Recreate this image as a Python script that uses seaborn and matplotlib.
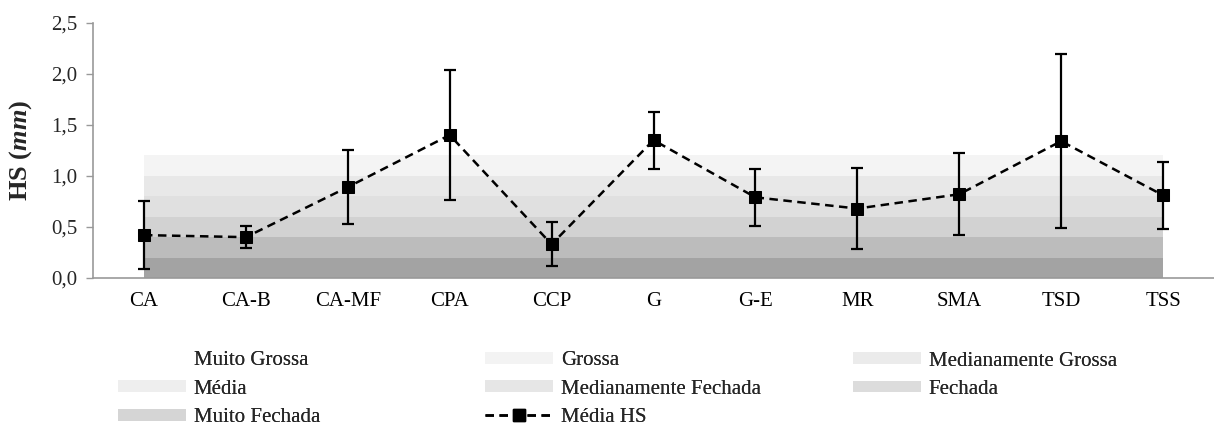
import matplotlib
matplotlib.use("Agg")
import matplotlib.pyplot as plt
import seaborn as sns
import numpy as np
import pandas as pd
from matplotlib.patches import Patch
from matplotlib.lines import Line2D

categories = ["CA", "CA-B", "CA-MF", "CPA", "CCP", "G", "G-E", "MR", "SMA", "TSD", "TSS"]
media_hs = [0.42, 0.40, 0.89, 1.40, 0.33, 1.35, 0.79, 0.68, 0.82, 1.34, 0.81]
desvio = [0.33, 0.11, 0.36, 0.64, 0.215, 0.28, 0.28, 0.40, 0.40, 0.85, 0.33]

# classes (bottom to top), each band 0.2 thick
classes = ["Muito Fechada", "Fechada", "Medianamente Fechada", "Média",
           "Medianamente Grossa", "Grossa"]
class_heights = [0.2, 0.2, 0.2, 0.2, 0.2, 0.2]
band_colors = ["#a3a3a3", "#bcbcbc", "#d2d2d2", "#e0e0e0", "#e8e8e8", "#f4f4f4"]
legend_colors = {"Muito Grossa": "#ffffff", "Grossa": "#f3f3f3",
                 "Medianamente Grossa": "#ebebeb", "Média": "#eeeeee",
                 "Medianamente Fechada": "#e6e6e6", "Fechada": "#dcdcdc",
                 "Muito Fechada": "#d5d5d5"}

yticks = [0.0, 0.5, 1.0, 1.5, 2.0, 2.5]
ytick_labels = ["0,0", "0,5", "1,0", "1,5", "2,0", "2,5"]

sns.set_theme(style="white")
plt.rcParams["font.family"] = ["Liberation Serif", "DejaVu Serif"]
plt.rcParams["mathtext.fontset"] = "custom"
plt.rcParams["mathtext.bf"] = "Liberation Serif:bold:italic"
plt.rcParams["mathtext.rm"] = "Liberation Serif"

W, H = 1214, 428
fig = plt.figure(figsize=(W / 100, H / 100), dpi=100)
ax = fig.add_axes([93 / W, 1 - 278 / H, 1 - 93 / W, (278 - 22.7) / H])

x = np.arange(len(categories))
layers = [np.full(len(x), h) for h in class_heights]
ax.stackplot(x, *layers, colors=band_colors, linewidth=0, zorder=1)

dash = (0, (3.4, 2.2))
df = pd.DataFrame({"x": x, "y": media_hs})
ax.errorbar(x, media_hs, yerr=desvio, fmt="none", ecolor="black",
            elinewidth=1.6, capsize=4.5, capthick=1.6, zorder=3)
sns.lineplot(data=df, x="x", y="y", ax=ax, color="black", linestyle=dash,
             linewidth=1.8, marker="s", markersize=8, markeredgecolor="black",
             markerfacecolor="black", zorder=4)

ax.set_xlim(-0.5, 10.41)
ax.set_ylim(0, 2.5)
ax.set_yticks(yticks)
ax.set_yticklabels(ytick_labels, fontsize=15)
ax.set_xticks(x)
ax.set_xticklabels(categories, fontsize=15)
ax.set_xticks(np.arange(-0.5, len(categories), 1.0), minor=True)
ax.tick_params(axis="x", which="major", length=0, pad=10, colors="black")
ax.tick_params(axis="x", which="minor", length=5, width=1, color="#999999", direction="out")
ax.tick_params(axis="y", length=5, width=1, color="#999999", direction="out", pad=6, left=True)
for s in ["top", "right"]:
    ax.spines[s].set_visible(False)
for s in ["left", "bottom"]:
    ax.spines[s].set_color("#999999")
    ax.spines[s].set_linewidth(1.2)
ax.set_xlabel("")
ax.set_ylabel(r"HS ($\mathbf{mm}$)", fontsize=19, fontweight="bold")
ax.yaxis.set_label_coords((34 - 93) / (W - 93), 0.5)


def patch(name):
    return Patch(facecolor=legend_colors[name], edgecolor="none", label=name)


line_handle = Line2D([], [], color="black", linestyle=dash, linewidth=1.8,
                     marker="s", markersize=8, label="Média HS")
columns = [
    ([patch("Muito Grossa"), patch("Média"), patch("Muito Fechada")], 118, 389.2),
    ([patch("Grossa"), patch("Medianamente Fechada"), line_handle], 485, 389.2),
    ([patch("Medianamente Grossa"), patch("Fechada")], 853, 375.2),
]
for hs, x0, yc in columns:
    leg = fig.legend(handles=hs, ncol=1, loc="center left",
                     bbox_to_anchor=(x0 / W, 1 - yc / H), frameon=False,
                     fontsize=15, handlelength=3.27, handleheight=0.5,
                     handletextpad=0.36, labelspacing=0.45,
                     borderaxespad=0, borderpad=0)
    fig.add_artist(leg)

fig.savefig("out.png", dpi=100)
